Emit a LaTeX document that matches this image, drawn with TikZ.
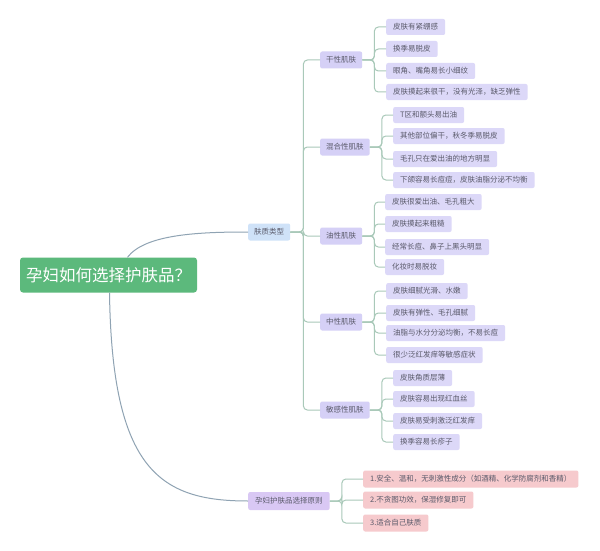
\documentclass[tikz,border=0pt]{standalone}
\usepackage{fontspec}
\setmainfont{Noto Sans CJK SC}
\usepackage{xcolor}
\usetikzlibrary{positioning}
\definecolor{rootgreen}{HTML}{5CB97C}
\definecolor{typeblue}{HTML}{CFE2F8}
\definecolor{subpurple}{HTML}{D5D0F6}
\definecolor{leafpurple}{HTML}{DCD8F8}
\definecolor{rulepurple}{HTML}{D9C8F4}
\definecolor{rulepink}{HTML}{F6CACD}
\definecolor{linegreen}{HTML}{A9C9B9}
\definecolor{linegray}{HTML}{8FA3B3}
\definecolor{textgray}{HTML}{5A5A6A}
\tikzset{rootbox/.style={fill=rootgreen, rounded corners=3pt, text=white,
  font=\fontsize{16.5}{19}\selectfont, minimum width=177pt, minimum height=35pt}}
\tikzset{typebox/.style={fill=typeblue, rounded corners=2pt, text=textgray,
  font=\fontsize{7.5}{9}\selectfont, inner xsep=6pt, minimum height=17pt, anchor=west}}
\tikzset{subbox/.style={fill=subpurple, rounded corners=2pt, text=textgray,
  font=\fontsize{7.5}{9}\selectfont, inner xsep=6pt, minimum height=17pt, anchor=west}}
\tikzset{leafbox/.style={fill=leafpurple, rounded corners=2pt, text=textgray,
  font=\fontsize{7.5}{9}\selectfont, inner xsep=7pt, minimum height=16pt, anchor=west}}
\tikzset{rulebox/.style={fill=rulepurple, rounded corners=2pt, text=textgray,
  font=\fontsize{7.5}{9}\selectfont, inner xsep=7pt, minimum height=18pt, anchor=west}}
\tikzset{pinkbox/.style={fill=rulepink, rounded corners=2pt, text=textgray,
  font=\fontsize{7.5}{9}\selectfont, inner xsep=7pt, minimum height=17pt, anchor=west}}
\tikzset{link/.style={draw=linegreen, line width=1pt, rounded corners=4pt}}
\tikzset{mainlink/.style={draw=linegray, line width=1pt}}

\begin{document}
\begin{tikzpicture}[x=1pt, y=-1pt]

\fill[white] (0,0) rectangle (600,551);
\useasboundingbox (0,0) rectangle (600,551);

\node[rootbox] (root) at (108.5,275) {孕妇如何选择护肤品？};
\node[typebox] (skin) at (248,232) {肤质类型};
\node[rulebox] (rule) at (248,501) {孕妇护肤品选择原则};

\draw[mainlink] ([xshift=19pt]root.north) .. controls (145,234) and (200,232) .. (skin.west);
\draw[mainlink] ([xshift=1pt]root.south) .. controls (112,470) and (160,501) .. (rule.west);

\node[subbox] (dry) at (320,60) {干性肌肤};
\node[subbox] (mix) at (320,147) {混合性肌肤};
\node[subbox] (oily) at (320,236) {油性肌肤};
\node[subbox] (neutral) at (320,322) {中性肌肤};
\node[subbox] (sens) at (320,410) {敏感性肌肤};

\foreach \s in {dry, mix, oily, neutral, sens}
  \draw[link] (skin.east) -- ++(13pt,0) |- (\s.west);

% dry
\node[leafbox] (dry1) at (386,27) {皮肤有紧绷感};
\node[leafbox] (dry2) at (386,49) {换季易脱皮};
\node[leafbox] (dry3) at (386,71) {眼角、嘴角易长小细纹};
\node[leafbox] (dry4) at (386,92) {皮肤摸起来很干，没有光泽，缺乏弹性};

% mixed
\node[leafbox] (mix1) at (393,115) {T区和额头易出油};
\node[leafbox] (mix2) at (393,136) {其他部位偏干，秋冬季易脱皮};
\node[leafbox] (mix3) at (393,159) {毛孔只在爱出油的地方明显};
\node[leafbox] (mix4) at (393,180) {下颌容易长痘痘，皮肤油脂分泌不均衡};

% oily
\node[leafbox] (oily1) at (385,202) {皮肤很爱出油、毛孔粗大};
\node[leafbox] (oily2) at (385,224) {皮肤摸起来粗糙};
\node[leafbox] (oily3) at (385,247) {经常长痘、鼻子上黑头明显};
\node[leafbox] (oily4) at (385,267) {化妆时易脱妆};

% neutral
\node[leafbox] (neutral1) at (386,291) {皮肤细腻光滑、水嫩};
\node[leafbox] (neutral2) at (386,313) {皮肤有弹性、毛孔细腻};
\node[leafbox] (neutral3) at (386,333) {油脂与水分分泌均衡，不易长痘};
\node[leafbox] (neutral4) at (386,355) {很少泛红发痒等敏感症状};

% sensitive
\node[leafbox] (sens1) at (393,378) {皮肤角质层薄};
\node[leafbox] (sens2) at (393,399) {皮肤容易出现红血丝};
\node[leafbox] (sens3) at (393,421) {皮肤易受刺激泛红发痒};
\node[leafbox] (sens4) at (393,442) {换季容易长疹子};

\foreach \s in {dry, mix, oily, neutral, sens}
  \foreach \i in {1,...,4}
    \draw[link] (\s.east) -- ++(12pt,0) |- (\s\i.west);

% rules
\node[pinkbox] (rule1) at (363,479) {1.安全、温和，无刺激性成分（如酒精、化学防腐剂和香精）};
\node[pinkbox] (rule2) at (363,500) {2.不贪图功效，保湿修复即可};
\node[pinkbox] (rule3) at (363,523) {3.适合自己肤质};

\foreach \i in {1,2,3}
  \draw[link] (rule.east) -- ++(12pt,0) |- (rule\i.west);

\end{tikzpicture}
\end{document}
